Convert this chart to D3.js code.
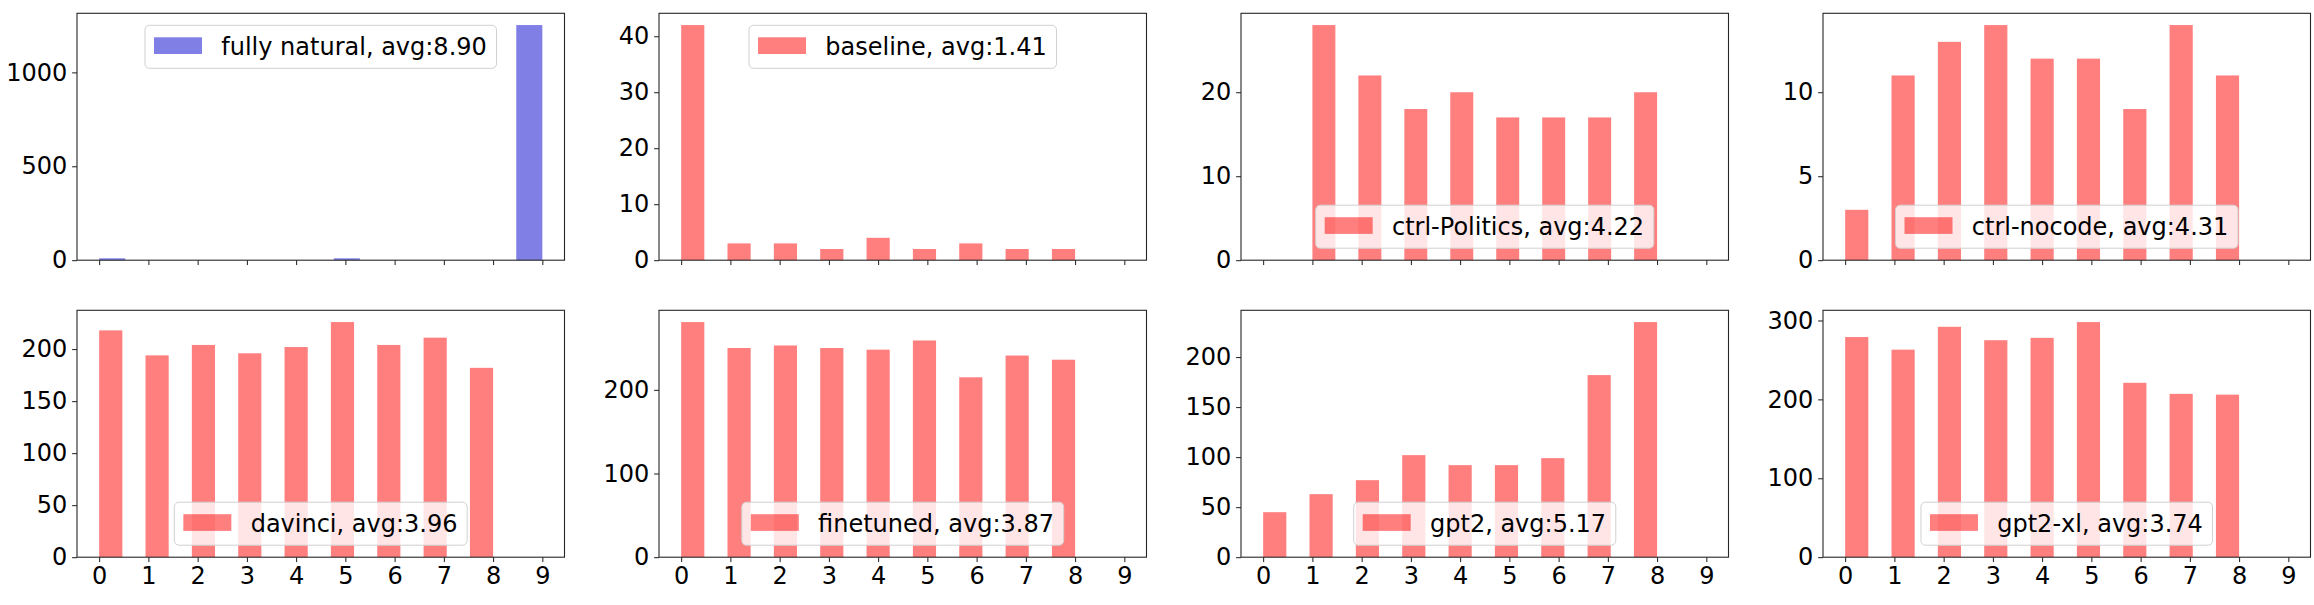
<!DOCTYPE html>
<html><head><meta charset="utf-8">
<script src="https://cdn.jsdelivr.net/npm/d3@7"></script>
<style>
body{margin:0;background:#fff;}
text{font-family:"DejaVu Sans", sans-serif;}
</style></head>
<body>
<svg id="chart" width="2314" height="605"></svg>
<script>
// ---- data ----
const categories = [0,1,2,3,4,5,6,7,8,9];
const seriesNames = ["fully natural","baseline","ctrl-Politics","ctrl-nocode","davinci","finetuned","gpt2","gpt2-xl"];
const averages = ["8.90","1.41","4.22","4.31","3.96","3.87","5.17","3.74"];
const fullyNatural = [10,0,0,0,0,10,0,0,0,1252];
const baseline     = [42,3,3,2,4,2,3,2,2,0];
const ctrlPolitics = [0,28,22,18,20,17,17,17,20,0];
const ctrlNocode   = [3,11,13,14,12,12,9,14,11,0];
const davinci      = [218,194,204,196,202,226,204,211,182,0];
const finetuned    = [281,250,253,250,248,259,215,241,236,0];
const gpt2         = [45,63,77,102,92,92,99,182,235,0];
const gpt2xl       = [279,263,292,275,278,298,221,207,206,0];
const seriesValues = [fullyNatural, baseline, ctrlPolitics, ctrlNocode, davinci, finetuned, gpt2, gpt2xl];
const yTickValues = [[0,500,1000],[0,10,20,30,40],[0,10,20],[0,5,10],[0,50,100,150,200],[0,100,200],[0,50,100,150,200],[0,100,200,300]];
const binCounts = [17,17,15,17,17,17,17,17];
const legendLoc = ["upper","upper","lower","lower","lower","lower","lower","lower"];
const seriesColors = ["#0000cd","#ff0000","#ff0000","#ff0000","#ff0000","#ff0000","#ff0000","#ff0000"];

// ---- layout ----
const axLefts = [77, 659, 1241, 1823];
const axW = 487.5;
const rowTops = [13.3, 310.3];
const axH = 246.9;
const FS = 24;
const tickLen = 4.86, tickPad = 4.86;

const svg = d3.select("#chart");

seriesValues.forEach((vals, k) => {
  const col = k % 4, row = Math.floor(k / 4);
  const left = axLefts[col], top = rowTops[row], bottom = top + axH, right = left + axW;
  const x = d3.scaleLinear().domain([-0.45, 9.45]).range([left, right]);
  const ymax = d3.max(vals) * 1.05;
  const y = d3.scaleLinear().domain([0, ymax]).range([bottom, top]);
  const g = svg.append("g");

  // histogram-style bins
  const nz = categories.filter((c, i) => vals[i] > 0);
  const lo = d3.min(nz), hi = d3.max(nz);
  const nb = binCounts[k];
  const w = (hi - lo) / nb;
  const bars = categories.map((c, i) => {
    const idx = Math.min(Math.floor((c - lo) / w + 1e-9), nb - 1);
    return {x0: lo + idx * w, x1: lo + (idx + 1) * w, v: vals[i]};
  }).filter(d => d.v > 0);

  g.selectAll("rect.bar").data(bars).enter().append("rect")
    .attr("class", "bar")
    .attr("x", d => x(d.x0))
    .attr("width", d => x(d.x1) - x(d.x0))
    .attr("y", d => y(d.v))
    .attr("height", d => y(0) - y(d.v))
    .attr("fill", seriesColors[k])
    .attr("fill-opacity", 0.5);

  // axes
  const xa = d3.axisBottom(x).tickValues(categories).tickSize(tickLen).tickPadding(tickPad).tickFormat(d3.format("d"));
  const gx = g.append("g").attr("transform", `translate(0,${bottom})`).call(xa);
  gx.select(".domain").remove();
  gx.selectAll(".tick line").attr("stroke", "#000").attr("stroke-width", 0.9);
  if (row === 0) gx.selectAll(".tick text").remove();
  else gx.selectAll(".tick text").attr("font-size", FS).attr("fill", "#000")
        .attr("font-family", "DejaVu Sans");

  const ya = d3.axisLeft(y).tickValues(yTickValues[k]).tickSize(tickLen).tickPadding(tickPad).tickFormat(d3.format("d"));
  const gy = g.append("g").attr("transform", `translate(${left},0)`).call(ya);
  gy.select(".domain").remove();
  gy.selectAll(".tick line").attr("stroke", "#000").attr("stroke-width", 0.9);
  gy.selectAll(".tick text").attr("font-size", FS).attr("fill", "#000")
    .attr("font-family", "DejaVu Sans");

  // frame
  g.append("rect").attr("x", left).attr("y", top).attr("width", axW).attr("height", axH)
    .attr("fill", "none").attr("stroke", "#262626").attr("stroke-width", 1.1);

  // legend
  const label = `${seriesNames[k]}, avg:${averages[k]}`;
  const lg = g.append("g");
  const frame = lg.append("rect");
  const txt = lg.append("text").text(label).attr("font-size", FS).attr("fill", "#000")
    .attr("font-family", "DejaVu Sans");
  const tl = txt.node().getComputedTextLength();
  const boxH = 43, padL = 9, patchW = 48, patchH = 16.7, gap = 19.3, padR = 9.7;
  const boxW = padL + patchW + gap + tl + padR;
  const cx = (left + right) / 2;
  const bx = cx - boxW / 2;
  const by = legendLoc[k] === "upper" ? top + 12 : bottom - 12 - boxH;
  frame.attr("x", bx).attr("y", by).attr("width", boxW).attr("height", boxH)
    .attr("rx", 4.5).attr("fill", "#fff").attr("fill-opacity", 0.8)
    .attr("stroke", "#d0d0d0").attr("stroke-width", 1);
  lg.insert("rect", "text").attr("x", bx + padL).attr("y", by + 12).attr("width", patchW).attr("height", patchH)
    .attr("fill", seriesColors[k]).attr("fill-opacity", 0.5);
  txt.attr("x", bx + padL + patchW + gap).attr("y", by + 29.5);
});
</script>
</body></html>
